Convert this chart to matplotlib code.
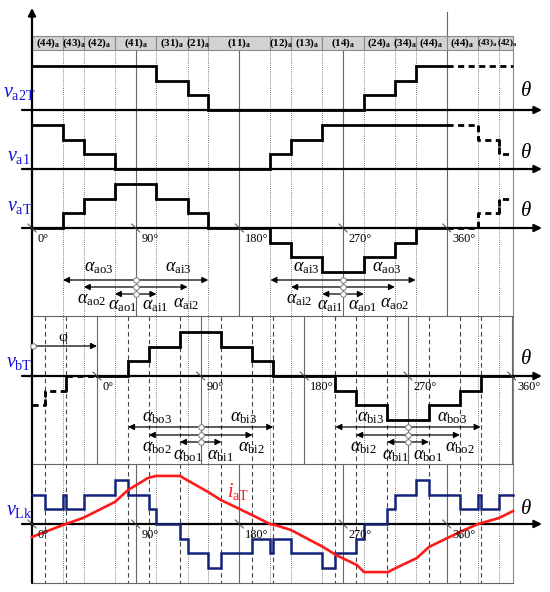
import numpy as np
import matplotlib
matplotlib.use('Agg')
import matplotlib.pyplot as plt
from matplotlib.patches import Rectangle

plt.rcParams['font.family'] = ['Liberation Serif', 'DejaVu Serif']
plt.rcParams['mathtext.fontset'] = 'custom'
plt.rcParams['mathtext.rm'] = 'Liberation Serif'
plt.rcParams['mathtext.it'] = 'Liberation Serif:italic'
plt.rcParams['mathtext.bf'] = 'Liberation Serif:bold'

# ---------------- data (degrees of phase a, levels in voltage steps)
phi = 56.4
x_end = 417.5

state_edges = [0, 27, 45, 72, 108, 135, 153, 207, 225, 252, 288, 315, 333, 360, 387, 405, 417.5]
state_labels = ['44', '43', '42', '41', '31', '21', '11', '12', '13', '14', '24', '34', '44', '44', '43', '42']

va2T_edges = [0, 108, 135, 153, 288, 315, 333, 360]
va2T_levels = [3, 2, 1, 0, 1, 2, 3]
va2T_dash_edges = [360, 417.5]
va2T_dash_levels = [3]

va1_edges = [0, 27, 45, 72, 207, 225, 252, 360]
va1_levels = [3, 2, 1, 0, 1, 2, 3]
va1_dash_edges = [360, 387, 405, 417.5]
va1_dash_levels = [3, 2, 1]

vaT_edges = [0, 27, 45, 72, 108, 135, 153, 207, 225, 252, 288, 315, 333, 360]
vaT_levels = [0, 1, 2, 3, 2, 1, 0, -1, -2, -3, -2, -1, 0]
vaT_dash_edges = [360, 387, 405, 417.5]
vaT_dash_levels = [0, 1, 2]

# phase b, in its own angle (shifted by phi)
vbT_edges = [0, 27, 45, 72, 108, 135, 153, 207, 225, 252, 288, 315, 333, 361]
vbT_levels = [0, 1, 2, 3, 2, 1, 0, -1, -2, -3, -2, -1, 0]
vbT_dash_edges = [-56.4, -45, -27, 0]
vbT_dash_levels = [-2, -1, 0]

vLk_edges = [0, 11.4, 27, 29.4, 45, 72, 83.4, 101.4, 108, 128.4, 135, 153, 164.4, 191.4,
             207, 209.4, 225, 252, 263.4, 281.4, 288, 308.4, 315, 333, 344.4, 371.4,
             387, 389.4, 405, 417.5]
vLk_levels = [2, 1, 2, 1, 2, 3, 2, 1, 0, -1, -2, -3, -2, -1,
              -2, -1, -2, -3, -2, -1, 0, 1, 2, 3, 2, 1, 2, 1, 2]

iaT_theta = [0, 26.9, 44.3, 72, 83.3, 100.7, 107.6, 128.5, 134.5, 152.8, 164, 191, 206.6,
             211, 224.8, 252.6, 263.9, 282, 288.2, 309, 316, 334.2, 344.6, 371.5, 387.2,
             405.4, 417.5]
iaT_val = [-0.88, -0.07, 0.41, 1.5, 2.31, 3.13, 3.27, 3.27, 2.99, 2.18, 1.63, 0.61, 0.0,
           -0.07, -0.41, -1.56, -2.11, -2.79, -3.27, -3.27, -2.99, -2.31, -1.56, -0.54, 0.0,
           0.41, 0.88]

alpha_ends_out = [72, 45, 27]     # alpha_o1..3 measured back from 90
alpha_ends_in = [108, 135, 153]   # alpha_i1..3 measured forward from 90
deg_labels = ['0°', '90°', '180°', '270°', '360°']

# ---------------- layout (pixel rows, 1 level = 14.7 px)
unit = 14.7
px = 1.152  # pixels per degree
b_a2T, b_a1, b_aT, b_bT, b_Lk = 110, 169, 228, 376, 524
blue = '#1414d8'
navy = '#14237a'
dash = (0, (2.2, 1.6))

fig = plt.figure(figsize=(5.5, 5.92), dpi=100)
ax = fig.add_axes([0, 0, 1, 1])
ax.set_xlim(-32 / px, (550 - 32) / px)
ax.set_ylim(592, 0)
ax.axis('off')


def steps(edges, levels):
    xs, ys = [], []
    for i, lv in enumerate(levels):
        xs += [edges[i], edges[i + 1]]
        ys += [lv, lv]
    return np.array(xs), np.array(ys)


def draw_step(edges, levels, base, shift=0, dashed=False, color='k', lw=2.0):
    xs, ys = steps(edges, levels)
    ax.plot(xs + shift, base - unit * ys, color=color, lw=lw, ls=dash if dashed else '-',
            solid_joinstyle='miter', zorder=5)


def hline_arrow(y):
    ax.annotate('', xy=(442.7, y), xytext=(-8.7, y),
                arrowprops=dict(arrowstyle='-|>', color='k', lw=1.6, mutation_scale=11,
                                shrinkA=0, shrinkB=0), zorder=4)


def slash(x, y):
    ax.plot([x - 3.5, x + 3.5], [y - 4, y + 4], color='#444', lw=0.7, zorder=6)


# ---- state band
for i, lab in enumerate(state_labels):
    x0, x1 = state_edges[i], state_edges[i + 1]
    ax.add_patch(Rectangle((x0, 36), x1 - x0, 14, facecolor='#d2d2d2',
                           edgecolor='#8a8a8a', lw=0.8, zorder=2))
    fs, xc = 7.8, (x0 + x1) / 2
    if i == len(state_labels) - 2:
        fs, xc = 6.6, xc - 0.5
    elif i == len(state_labels) - 1:
        fs, xc = 6.6, xc + 1.5
    ax.text(xc, 43.5, r'$\mathbf{(%s)}_{\mathbf{a}}$' % lab, fontsize=fs,
            ha='center', va='center', zorder=3)

# ---- vertical grid lines
a_sw = [27, 45, 72, 108, 135, 153, 207, 225, 252, 288, 315, 333, 387, 405]
for s in a_sw:
    ax.plot([s, s], [50, 583], color='#555', lw=0.6, ls=(0, (1, 1.5)), zorder=1)
for s in [90, 180, 270, 360]:
    ax.plot([s, s], [50, 316], color='#666', lw=0.8, zorder=1)
    ax.plot([s, s], [464, 583], color='#666', lw=0.8, zorder=1)
ax.plot([360, 360], [12, 50], color='#666', lw=0.8, zorder=1)
b_sw = [-45, -27] + vbT_edges[1:-1]
for s in b_sw:
    ax.plot([s + phi, s + phi], [316, 583], color='#444', lw=0.8, ls=(0, (4, 3)), zorder=1)
for s in [0, 90, 180, 270, 360]:
    ax.plot([s + phi, s + phi], [316, 464], color='#666', lw=0.8, zorder=1)
ax.plot([x_end, x_end], [36, 583], color='#888', lw=0.8, zorder=1)
for y in [316, 464, 583]:
    ax.plot([0, x_end], [y, y], color='#666', lw=0.8, zorder=1)

# ---- main axis
ax.annotate('', xy=(0, 8), xytext=(0, 583),
            arrowprops=dict(arrowstyle='-|>', color='k', lw=1.6, mutation_scale=11,
                            shrinkA=0, shrinkB=0), zorder=4)
for b in [b_a2T, b_a1, b_aT, b_bT, b_Lk]:
    hline_arrow(b)

# ---- waveforms phase a
draw_step(va2T_edges, va2T_levels, b_a2T)
draw_step(va2T_dash_edges, va2T_dash_levels, b_a2T, dashed=True)
draw_step(va1_edges, va1_levels, b_a1)
draw_step(va1_dash_edges, va1_dash_levels, b_a1, dashed=True)
draw_step(vaT_edges, vaT_levels, b_aT)
draw_step(vaT_dash_edges, vaT_dash_levels, b_aT, dashed=True)
for e, l0, l1, b in [(387, 3, 2, b_a1), (405, 2, 1, b_a1), (387, 0, 1, b_aT), (405, 1, 2, b_aT)]:
    ax.plot([e, e], [b - unit * l0, b - unit * l1], color='k', lw=2, ls=dash, zorder=5)

# ---- phase b
draw_step(vbT_edges, vbT_levels, b_bT, shift=phi)
draw_step(vbT_dash_edges, vbT_dash_levels, b_bT, shift=phi, dashed=True)
for e, l0, l1 in [(-45, -2, -1), (-27, -1, 0)]:
    ax.plot([e + phi, e + phi], [b_bT - unit * l0, b_bT - unit * l1], color='k', lw=2,
            ls=dash, zorder=5)

# ---- vLk and iaT
draw_step(vLk_edges, vLk_levels, b_Lk, color=navy, lw=1.8)
ax.plot(iaT_theta, b_Lk - unit * np.array(iaT_val), color='#ff1a1a', lw=1.9, zorder=6)

# ---- degree marks
for k, lab in enumerate(deg_labels):
    for base, shift in [(b_aT, 0), (b_bT, phi), (b_Lk, 0)]:
        x = 90 * k + shift
        slash(x, base)
        ax.text(x + 5, base + 11, lab, fontsize=8.8, ha='left', va='center', zorder=7)


# ---- alpha arrows
def alpha_set(center, left_ends, right_ends, rows, shift):
    for j in range(3):
        y = rows[j]
        for end in (left_ends[j], right_ends[j]):
            ax.annotate('', xy=(end + shift, y), xytext=(center + shift, y),
                        arrowprops=dict(arrowstyle='-|>', color='k', lw=0.9,
                                        mutation_scale=9, shrinkA=2, shrinkB=0), zorder=5)
        ax.plot(center + shift, y, 'o', ms=4, mfc='white', mec='#777', mew=0.7, zorder=6)


a_rows = [294, 287, 280]
b_rows = [442, 435, 427]
alpha_set(90, alpha_ends_out, alpha_ends_in, a_rows, 0)
alpha_set(270, [e + 180 for e in alpha_ends_in], [e + 180 for e in alpha_ends_out], a_rows, 0)
alpha_set(90, alpha_ends_out, alpha_ends_in, b_rows, phi)
alpha_set(270, [e + 180 for e in alpha_ends_in], [e + 180 for e in alpha_ends_out], b_rows, phi)

alpha_labels = [
    ('ao3', 45.1, 268), ('ai3', 115.5, 268), ('ao2', 39.1, 300), ('ao1', 66, 306),
    ('ai1', 95.5, 306), ('ai2', 122.4, 303),
    ('ai3', 226.6, 268), ('ao3', 295.1, 268), ('ai2', 220.5, 300), ('ai1', 247.4, 306),
    ('ao1', 274.3, 306), ('ao2', 302.1, 303),
    ('bo3', 95.5, 417), ('bi3', 171.9, 417), ('bo2', 95.5, 447), ('bo1', 122.4, 455),
    ('bi1', 151.9, 455), ('bi2', 178.8, 448),
    ('bi3', 282.1, 418), ('bo3', 351.6, 418), ('bi2', 276, 448), ('bi1', 303.8, 455),
    ('bo1', 330.7, 455), ('bo2', 358.5, 448),
]
for sub, x, y in alpha_labels:
    ax.text(x, y, r'$\alpha_{\mathrm{%s}}$' % sub, fontsize=13, ha='left', va='center', zorder=7)

# ---- phi
ax.annotate('', xy=(phi, 346), xytext=(0.8, 346),
            arrowprops=dict(arrowstyle='-|>', color='k', lw=0.9, mutation_scale=9,
                            shrinkA=2, shrinkB=0), zorder=5)
ax.plot(0.8, 346, 'o', ms=4, mfc='white', mec='#777', mew=0.7, zorder=6)
ax.text(27, 338, 'φ', fontsize=11, ha='center', va='center')

# ---- signal names
for lab, y, x in [('a2T', 93, 3), ('a1', 157, 7), ('aT', 207, 7), ('bT', 362, 6), ('Lk', 510, 6)]:
    ax.text((x - 32) / px, y, r'$v_{\mathrm{%s}}$' % lab, fontsize=14.5, color=blue,
            ha='left', va='center', zorder=7)
ax.text(169, 491, r'$i_{\mathrm{aT}}$', fontsize=14.5, color='#ff1a1a', ha='left', va='center')
for y in [92, 153, 212, 360, 510]:
    ax.text(429, y, r'$\theta$', fontsize=15, ha='center', va='center')

fig.savefig('out.png', dpi=100)
